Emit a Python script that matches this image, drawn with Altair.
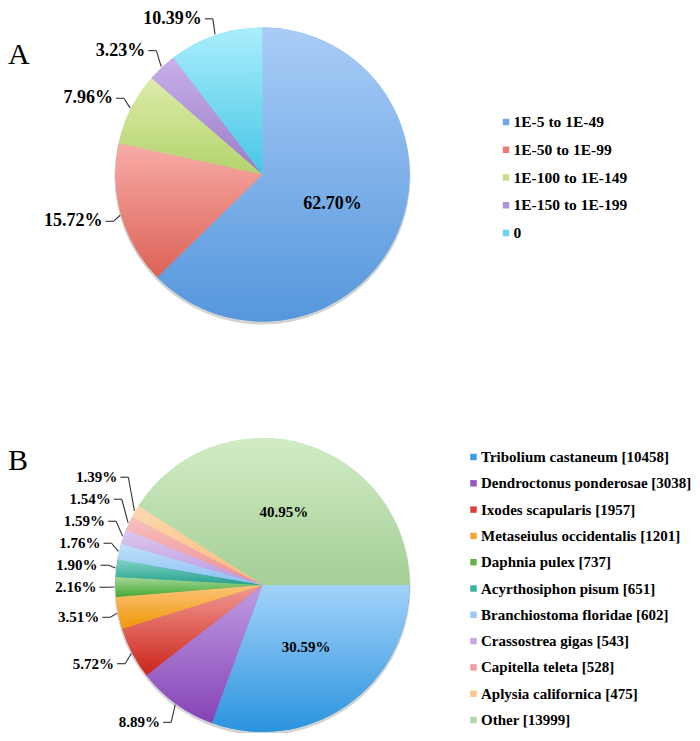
import math
import numpy as np
import pandas as pd
import altair as alt

# ---------------- data ----------------
A_CATEGORIES = ["1E-5 to 1E-49", "1E-50 to 1E-99", "1E-100 to 1E-149",
                "1E-150 to 1E-199", "0"]
A_PERCENT = [62.70, 15.72, 7.96, 3.23, 10.39]

B_CATEGORIES = [
    "Tribolium castaneum [10458]",
    "Dendroctonus ponderosae [3038]",
    "Ixodes scapularis [1957]",
    "Metaseiulus occidentalis [1201]",
    "Daphnia pulex [737]",
    "Acyrthosiphon pisum [651]",
    "Branchiostoma floridae [602]",
    "Crassostrea gigas [543]",
    "Capitella teleta [528]",
    "Aplysia californica [475]",
    "Other [13999]",
]
B_PERCENT = [30.59, 8.89, 5.72, 3.51, 2.16, 1.90, 1.76, 1.59, 1.54, 1.39, 40.95]

# ---------------- styles ----------------
A_COLORS = ["#6fa6e6", "#e87c73", "#c6de88", "#ad94d8", "#6ad3ee"]
A_LIGHT = ["#a9ccf7", "#f7aca6", "#dcecaa", "#c8b0ea", "#aaeefc"]
A_DARK = ["#5597dc", "#dc6257", "#b4d36c", "#9a7cc6", "#48c6e5"]

B_COLORS = ["#3d9fe6", "#9558c4", "#dd4038", "#f5a534", "#62b34e", "#3ab2a0",
            "#9dcbf6", "#c8a9e6", "#f0a0a0", "#fbc78e", "#b2d9a4"]
B_LIGHT = ["#a3d2fa", "#c09ce3", "#f09a94", "#fcc57a", "#a6d898", "#7fd2c4",
           "#c2e0fb", "#ddc8f0", "#f8c0c0", "#fddab2", "#d2ecc6"]
B_DARK = ["#2a93de", "#8643b6", "#cc2418", "#f09608", "#46a635", "#26a08c",
          "#88c0f2", "#b996dd", "#ec8e8e", "#f9b978", "#a4cf95"]

# ---------------- layout ----------------
W, H = 684, 725
R = 147
FONT = "Liberation Serif"
TAU = 2 * math.pi


def label_layout(pcts, cx, cy, start, fs, rx=155, ry=170, gap=22, inner_min=20):
    """Place outside labels (with leader lines) from the slice mid-angles."""
    p = np.array(pcts, dtype=float)
    mid = start + TAU * (np.cumsum(p) - p / 2) / p.sum()
    rows = []
    for i, v in enumerate(p):
        if v >= inner_min:
            continue
        s, c = math.sin(mid[i]), math.cos(mid[i])
        rows.append(dict(text=f"{v:.2f}%", side=-1 if s < 0 else 1,
                         px=cx + (R + 1) * s, py=cy - (R + 1) * c,
                         ex=cx + rx * s, ey=cy - ry * c))
    df = pd.DataFrame(rows)
    # push overlapping labels upward, bottom first
    for side in (-1, 1):
        idx = df.index[df.side == side]
        order = sorted(idx, key=lambda k: -df.loc[k, "ey"])
        prev = None
        for k in order:
            if prev is not None and df.loc[k, "ey"] > prev - gap:
                df.loc[k, "ey"] = prev - gap
            prev = df.loc[k, "ey"]
    df["ey"] = df.ey.clip(lower=fs * 0.6)  # keep inside the drawing
    df["hx"] = df.ex + df.side * 8
    df["lx"] = df.ex + df.side * 11
    return df


def pie(cats, pcts, colors, light, dark, cx, cy, start, fs,
        leg_x, leg_y0, leg_y1, leg_fs):
    df = pd.DataFrame({"cat": cats, "pct": pcts, "order": range(len(cats))})
    df["inner"] = [f"{v:.2f}%" if v >= 20 else "" for v in pcts]
    theta = alt.Theta("pct:Q", stack=True,
                      scale=alt.Scale(range=[start, start + TAU]))
    color = alt.Color("cat:N", scale=alt.Scale(domain=cats, range=colors),
                      legend=None)
    # soft shadow under the whole pie
    shadow = alt.Chart(pd.DataFrame({"total": [sum(pcts)]})).mark_arc(
        outerRadius=R + 1, color="#9c9c9c", opacity=0.45
    ).encode(theta=alt.Theta("total:Q"), x=alt.value(cx), y=alt.value(cy + 2))
    base = alt.Chart(df).encode(theta=theta, order=alt.Order("order:Q"),
                                x=alt.value(cx), y=alt.value(cy))
    arcs = base.mark_arc(outerRadius=R).encode(color=color)
    shades = []
    for cat, lo, hi in zip(cats, light, dark):
        grad = alt.Gradient(
            gradient="linear",
            stops=[alt.GradientStop(color=lo, offset=0),
                   alt.GradientStop(color=hi, offset=1)],
            x1=0, x2=0, y1=0, y2=1,
        )
        shades.append(
            base.mark_arc(outerRadius=R, fill=grad).encode(
                opacity=alt.condition(alt.datum.cat == cat,
                                      alt.value(1), alt.value(0))
            )
        )
    inner = base.mark_text(
        radius=76, font=FONT, fontSize=fs, fontWeight="bold", color="black"
    ).encode(text="inner:N")

    lab = label_layout(pcts, cx, cy, start, fs)
    xs = lambda f: alt.X(f, scale=None, axis=None)
    ys = lambda f: alt.Y(f, scale=None, axis=None)
    outer = alt.Chart(lab).mark_text(
        align="right", baseline="middle", font=FONT, fontSize=fs,
        fontWeight="bold", color="black"
    ).encode(x=xs("lx:Q"), y=ys("ey:Q"), text="text:N")
    lead_h = alt.Chart(lab).mark_rule(color="#333333", strokeWidth=1.1).encode(
        x=xs("hx:Q"), x2="ex:Q", y=ys("ey:Q"))
    lead_d = alt.Chart(lab).mark_rule(color="#333333", strokeWidth=1.1).encode(
        x=xs("ex:Q"), y=ys("ey:Q"), x2="px:Q", y2="py:Q")

    # legend drawn from the same colour scale, rows on a point scale
    ly = alt.Y("cat:N", sort=cats, axis=None,
               scale=alt.Scale(type="point", range=[leg_y0, leg_y1], padding=0))
    leg_sym = alt.Chart(df).mark_square(size=42, opacity=1).encode(
        x=alt.value(leg_x), y=ly, color=color)
    leg_txt = alt.Chart(df).mark_text(
        align="left", baseline="middle", font=FONT, fontSize=leg_fs,
        fontWeight="bold", color="black"
    ).encode(x=alt.value(leg_x + 7.5), y=ly, text="cat:N")
    return [shadow, arcs] + shades + [inner, lead_h, lead_d, outer,
                                      leg_sym, leg_txt]


layers = []
layers += pie(A_CATEGORIES, A_PERCENT, A_COLORS, A_LIGHT, A_DARK,
              254.5, 166.5, 0.0, 18, 498, 114, 225, 15.5)
layers += pie(B_CATEGORIES, B_PERCENT, B_COLORS, B_LIGHT, B_DARK,
              254.5, 577.0, math.pi / 2, 15, 465.5, 449, 712, 15)

for letter, base_y in (("A", 56), ("B", 462)):
    layers.append(
        alt.Chart(pd.DataFrame({"t": [letter]})).mark_text(
            align="left", baseline="alphabetic", font=FONT, fontSize=30,
            color="black"
        ).encode(text="t:N", x=alt.value(0), y=alt.value(base_y))
    )

chart = alt.layer(*layers).resolve_scale(
    theta="independent", color="independent", x="independent",
    y="independent", opacity="independent"
).properties(
    width=W, height=H, padding=0,
    autosize=alt.AutoSizeParams(type="none"),
).configure_view(stroke=None)

chart.save("out.html", embed_options={"renderer": "svg", "actions": False})
